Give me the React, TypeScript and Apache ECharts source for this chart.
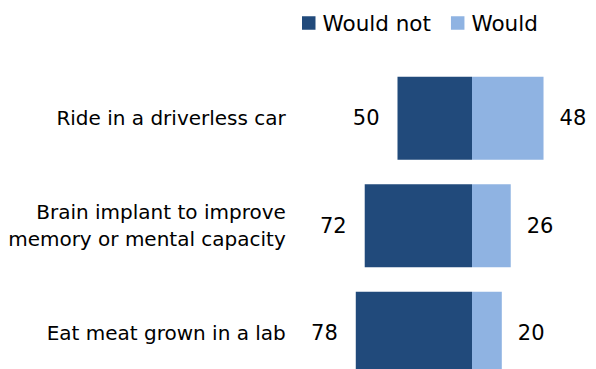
import React, { useEffect, useRef } from "react";
import * as echarts from "echarts";

const categories = [
  "Ride in a driverless car",
  "Brain implant to improve\nmemory or mental capacity",
  "Eat meat grown in a lab",
];
const wouldNot = [50, 72, 78];
const would = [48, 26, 20];

const FONT = "'DejaVu Sans', sans-serif";

export default function App() {
  const ref = useRef<HTMLDivElement>(null);
  useEffect(() => {
    document.body.style.margin = "0";
    document.body.style.overflow = "hidden";
    if (!ref.current) return;
    const chart = echarts.init(ref.current, undefined, { renderer: "svg" });
    chart.setOption({
      animation: false,
      backgroundColor: "#ffffff",
      legend: {
        data: ["Would not", "Would"],
        left: 297,
        top: 7,
        itemWidth: 13.5,
        itemHeight: 13.5,
        itemGap: 20,
        icon: "rect",
        textStyle: {
          fontFamily: FONT,
          fontSize: 21.5,
          lineHeight: 22,
          color: "#000",
          padding: [0, 0, 0, 2],
        },
      },
      grid: { left: 352.8, width: 208.6, top: 64.5, height: 322.5, containLabel: false },
      xAxis: {
        type: "value",
        min: -80,
        max: 60,
        show: false,
      },
      yAxis: {
        type: "category",
        data: categories,
        inverse: true,
        axisLine: { show: false },
        axisTick: { show: false },
        axisLabel: {
          margin: 67,
          fontFamily: FONT,
          fontSize: 20,
          color: "#000",
          lineHeight: 27,
          align: "right",
        },
      },
      series: [
        {
          name: "Would not",
          type: "bar",
          stack: "s",
          data: wouldNot.map((v) => -v),
          barWidth: 83,
          itemStyle: { color: "#214a7b" },
          label: {
            show: true,
            position: "left",
            distance: 18,
            formatter: (p: any) => String(Math.abs(p.value)),
            fontFamily: FONT,
            fontSize: 21,
            color: "#000",
          },
        },
        {
          name: "Would",
          type: "bar",
          stack: "s",
          data: would,
          barWidth: 83,
          itemStyle: { color: "#8fb3e2" },
          label: {
            show: true,
            position: "right",
            distance: 16,
            fontFamily: FONT,
            fontSize: 21,
            color: "#000",
          },
        },
      ],
    });
    return () => chart.dispose();
  }, []);
  return (
    <div style={{ width: 596, height: 369, overflow: "hidden" }}>
      <div ref={ref} style={{ width: 596, height: 400 }} />
    </div>
  );
}
